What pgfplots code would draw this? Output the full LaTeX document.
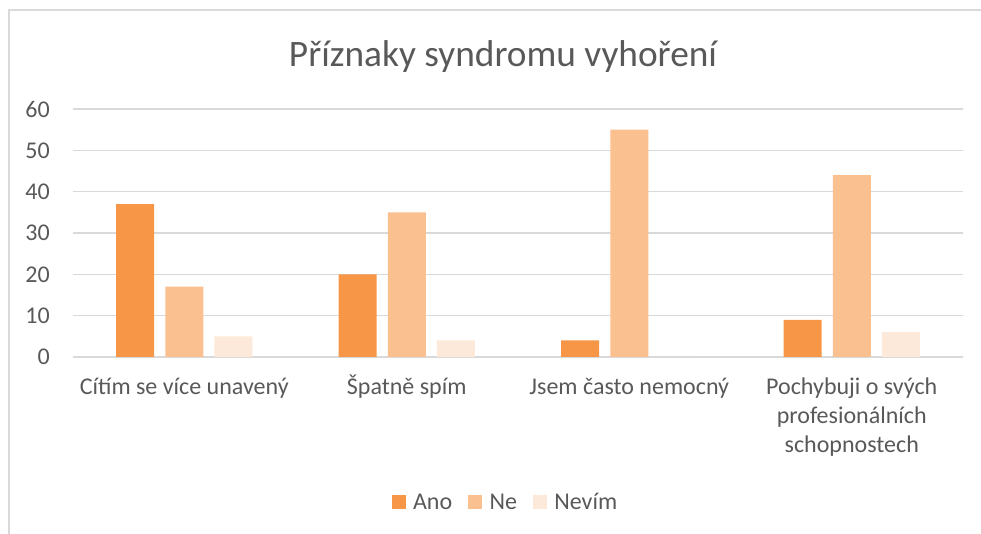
\documentclass[border=0pt]{standalone}
\usepackage{fontspec}
\setmainfont{Carlito}
\usepackage{pgfplots}
\pgfplotsset{compat=1.18}
\definecolor{ano}{RGB}{247,150,70}
\definecolor{ne}{RGB}{250,192,144}
\definecolor{nevim}{RGB}{253,233,217}
\definecolor{txt}{RGB}{89,89,89}
\definecolor{gridc}{RGB}{217,217,217}
\begin{document}
\begin{tikzpicture}[x=0.75pt,y=0.75pt]
\useasboundingbox (-73,-177) rectangle (908,357);
\draw[gridc, line width=1.5pt] (-64,-185) -- (-64,347) -- (920,347);
\node[font=\fontsize{28}{33}\selectfont, text=txt, anchor=base] at (430,290) {Příznaky syndromu vyhoření};
\begin{axis}[
  anchor=south west,
  scale only axis, width=667.5pt, height=186pt,
  xmin=-0.5, xmax=3.5, ymin=0, ymax=60,
  ytick={0,10,...,60},
  xtick={0,1,2,3},
  xticklabels={Cítím se více unavený, Špatně spím, Jsem často nemocný, {\begin{tabular}[t]{@{}c@{}}Pochybuji o svých\\profesionálních\\schopnostech\end{tabular}}},
  axis line style={draw=none},
  major tick length=0pt,
  ymajorgrids, grid style={gridc, line width=1.1pt},
  /pgf/number format/assume math mode=true,
  tick label style={font=\fontsize{18}{21.4}\selectfont, text=txt},
  yticklabel style={anchor=east, inner sep=0pt, xshift=-17.25pt},
  xticklabel style={anchor=base, inner sep=0pt, yshift=-28.5pt},
  legend style={at={(0.487,-0.585)}, anchor=center, draw=none, fill=none,
    legend columns=3, font=\fontsize{18}{20}\selectfont, text=txt,
    cells={anchor=base west},
    /tikz/every odd column/.append style={column sep=2.5pt},
    /tikz/every even column/.append style={column sep=9pt},
    nodes={inner sep=3pt}},
  legend image code/.code={\fill[#1] (0pt,0pt) rectangle (10.5pt,10.5pt);},
]
\addplot[ybar, bar width=28.5pt, bar shift=-36.9pt, fill=ano, draw=none] coordinates {(0,37) (1,20) (2,4) (3,9)};
\addplot[ybar, bar width=28.5pt, bar shift=0pt, fill=ne, draw=none] coordinates {(0,17) (1,35) (2,55) (3,44)};
\addplot[ybar, bar width=28.5pt, bar shift=36.9pt, fill=nevim, draw=none] coordinates {(0,5) (1,4) (2,0) (3,6)};
\legend{Ano, Ne, Nevím}
\end{axis}
\end{tikzpicture}
\end{document}
